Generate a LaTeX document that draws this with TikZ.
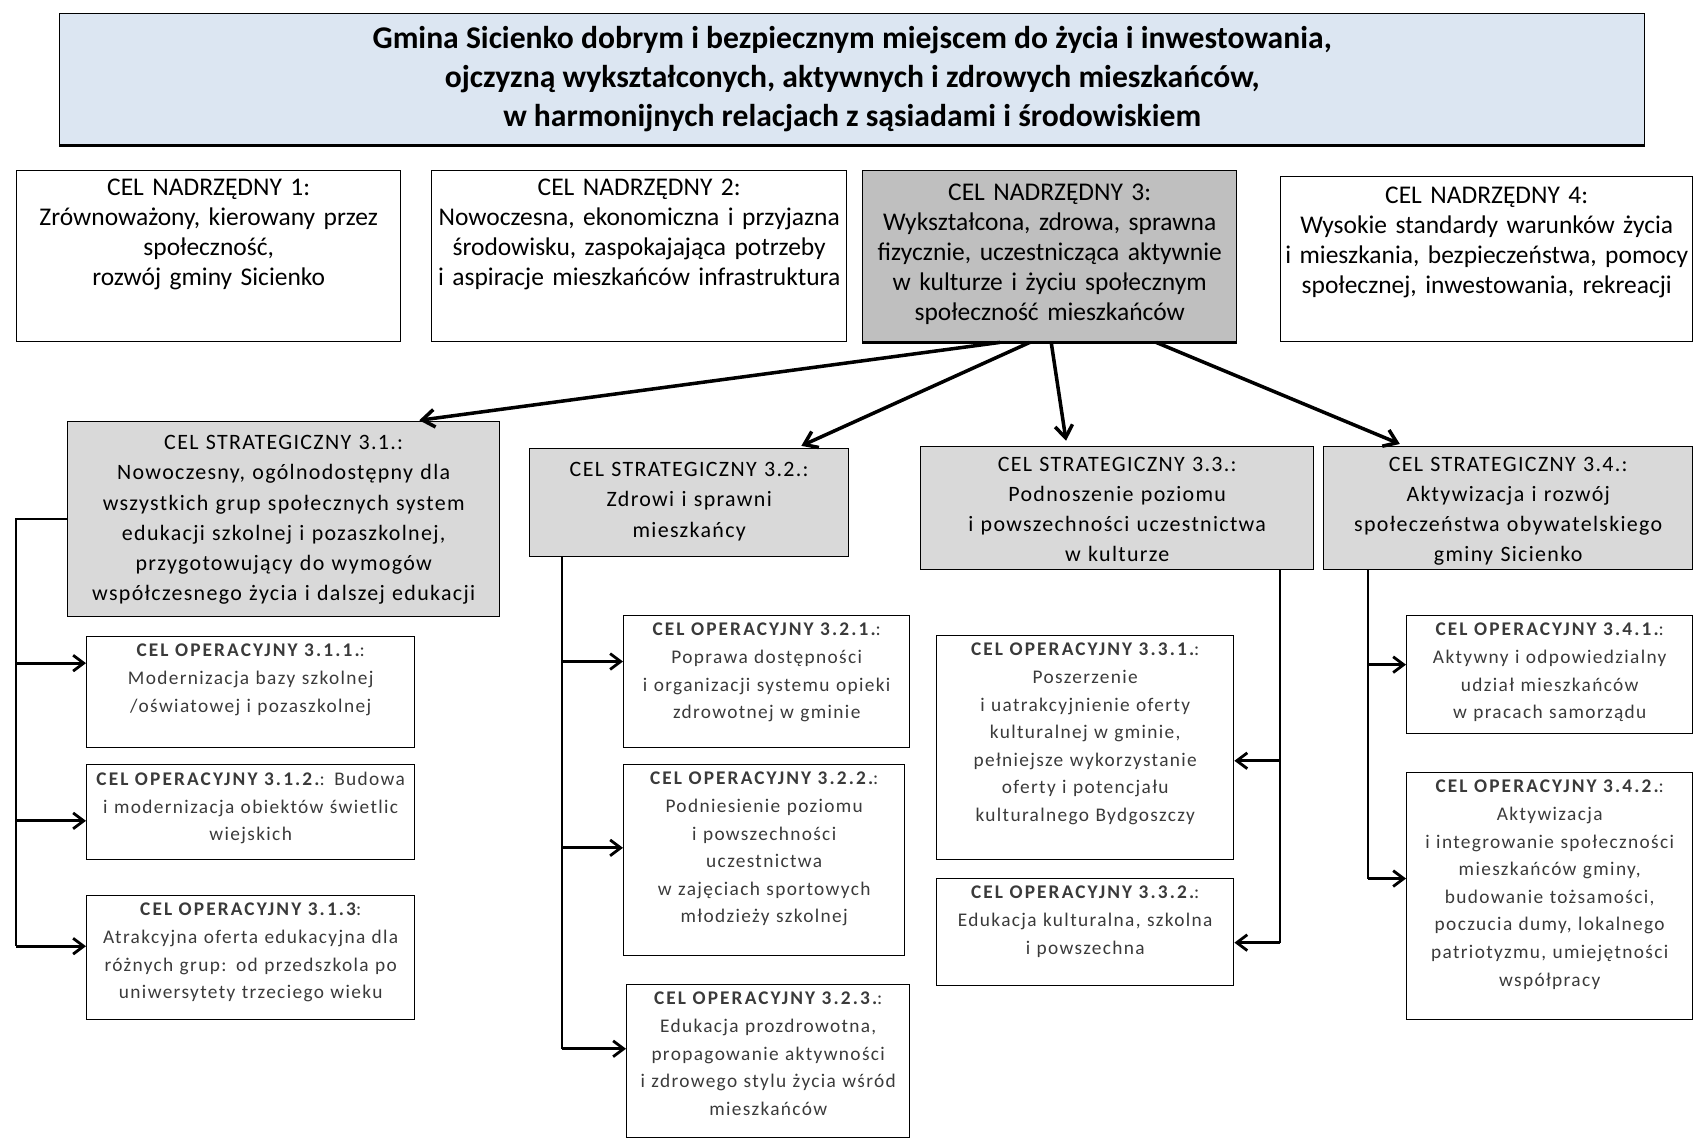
\documentclass[tikz,border=0pt]{standalone}
\usepackage{fontspec}
\setmainfont{Carlito}
\newfontfamily\stratfont[LetterSpace=6]{Carlito}
\newfontfamily\opfont[LetterSpace=7]{Carlito}
\newfontfamily\opheadfont[LetterSpace=11]{Carlito}
\usetikzlibrary{arrows.meta}

\definecolor{visionblue}{HTML}{DCE6F2}
\definecolor{nadgray}{HTML}{BFBFBF}
\definecolor{strgray}{HTML}{D9D9D9}
\definecolor{opgray}{HTML}{3A3A3A}

\newcommand{\ophead}[1]{{\opheadfont\bfseries #1}}

\begin{document}
\begin{tikzpicture}[x=0.02cm, y=-0.02cm,
  goal/.style={draw, anchor=north west, inner sep=0pt, line width=0.8pt},
  boxsize/.style 2 args={minimum width=#1*0.02cm, minimum height=#2*0.02cm},
  nadtext/.style={anchor=north, inner sep=0pt, text width=9cm, align=center,
    font=\fontsize{14.5}{17}\selectfont},
  strtext/.style={anchor=north, inner sep=0pt, text width=9.5cm, align=center,
    font=\stratfont\fontsize{12.5}{17.2}\selectfont},
  optext/.style={anchor=north, inner sep=0pt, text width=7cm, align=center, text=opgray,
    font=\opfont\fontsize{11}{15.7}\selectfont, yshift=-4.5pt},
  link/.style={line width=1.1pt},
  pointer/.style={line width=1.6pt, -{Straight Barb[length=6pt,width=9pt]}},
  mainarrow/.style={line width=2pt, -{Straight Barb[length=7pt,width=10pt]}, shorten >=3pt}]

\useasboundingbox (0,0) rectangle (1694,1139);

% wizja
\node[goal, boxsize={1585}{131}, fill=visionblue, align=center,
  font=\bfseries\fontsize{18}{22}\selectfont] (vision) at (59,13)
  {Gmina Sicienko dobrym i bezpiecznym miejscem do życia i inwestowania,\\
   ojczyzną wykształconych, aktywnych i zdrowych mieszkańców,\\
   w harmonijnych relacjach z sąsiadami i środowiskiem};
\draw[line width=2pt] (vision.south west) -- (vision.south east);

% cele nadrzedne
\node[goal, boxsize={384}{171}, label={[nadtext, yshift=-5pt]north:{CEL NADRZĘDNY 1:\\
  Zrównoważony, kierowany przez\\społeczność,\\rozwój gminy Sicienko}}] (n1) at (16,170) {};
\node[goal, boxsize={415}{171}, label={[nadtext, yshift=-5pt]north:{CEL NADRZĘDNY 2:\\
  Nowoczesna, ekonomiczna i przyjazna\\środowisku, zaspokajająca potrzeby\\
  i aspiracje mieszkańców infrastruktura}}] (n2) at (431,170) {};
\node[goal, boxsize={374}{171}, fill=nadgray, label={[nadtext, yshift=-8pt]north:{CEL NADRZĘDNY 3:\\
  Wykształcona, zdrowa, sprawna\\fizycznie, uczestnicząca aktywnie\\
  w kulturze i życiu społecznym\\społeczność mieszkańców}}] (n3) at (862,170) {};
\draw[line width=2pt] (n3.south west) -- (n3.south east);
\node[goal, boxsize={412}{165}, label={[nadtext, yshift=-6pt]north:{CEL NADRZĘDNY 4:\\
  Wysokie standardy warunków życia\\i mieszkania, bezpieczeństwa, pomocy\\
  społecznej, inwestowania, rekreacji}}] (n4) at (1280,176) {};

% cele strategiczne
\node[goal, boxsize={432}{195}, fill=strgray, label={[strtext, yshift=-8pt]north:{CEL STRATEGICZNY 3.1.:\\
  Nowoczesny, ogólnodostępny dla\\wszystkich grup społecznych system\\
  edukacji szkolnej i pozaszkolnej,\\przygotowujący do wymogów\\
  współczesnego życia i dalszej edukacji}}] (s31) at (67,421) {};
\node[goal, boxsize={319}{108}, fill=strgray, label={[strtext, yshift=-8pt]north:{CEL STRATEGICZNY 3.2.:\\
  Zdrowi i sprawni\\mieszkańcy}}] (s32) at (529,448) {};
\node[goal, boxsize={393}{123}, fill=strgray, label={[strtext, yshift=-6pt]north:{CEL STRATEGICZNY 3.3.:\\
  Podnoszenie poziomu\\i powszechności uczestnictwa\\w kulturze}}] (s33) at (920,446) {};
\node[goal, boxsize={369}{123}, fill=strgray, label={[strtext, yshift=-6pt]north:{CEL STRATEGICZNY 3.4.:\\
  Aktywizacja i rozwój\\społeczeństwa obywatelskiego\\gminy Sicienko}}] (s34) at (1323,446) {};

% cele operacyjne 3.1
\node[goal, boxsize={328}{111}, label={[optext]north:{\ophead{CEL OPERACYJNY 3.1.1.}:\\
  Modernizacja bazy szkolnej\\/oświatowej i pozaszkolnej}}] (o311) at (86,636) {};
\node[goal, boxsize={328}{95}, label={[optext]north:{\ophead{CEL OPERACYJNY 3.1.2.}: Budowa\\
  i modernizacja obiektów świetlic\\wiejskich}}] (o312) at (86,764) {};
\node[goal, boxsize={328}{124}, label={[optext]north:{\ophead{CEL OPERACYJNY 3.1.3}:\\
  Atrakcyjna oferta edukacyjna dla\\różnych grup: od przedszkola po\\
  uniwersytety trzeciego wieku}}] (o313) at (86,895) {};

% cele operacyjne 3.2
\node[goal, boxsize={286}{132}, label={[optext]north:{\ophead{CEL OPERACYJNY 3.2.1.}:\\
  Poprawa dostępności\\i organizacji systemu opieki\\zdrowotnej w gminie}}] (o321) at (623,615) {};
\node[goal, boxsize={281}{191}, label={[optext]north:{\ophead{CEL OPERACYJNY 3.2.2.}:\\
  Podniesienie poziomu\\i powszechności\\uczestnictwa\\w zajęciach sportowych\\
  młodzieży szkolnej}}] (o322) at (623,764) {};
\node[goal, boxsize={283}{153}, label={[optext]north:{\ophead{CEL OPERACYJNY 3.2.3.}:\\
  Edukacja prozdrowotna,\\propagowanie aktywności\\i zdrowego stylu życia wśród\\
  mieszkańców}}] (o323) at (626,984) {};

% cele operacyjne 3.3
\node[goal, boxsize={297}{224}, label={[optext]north:{\ophead{CEL OPERACYJNY 3.3.1.}:\\
  Poszerzenie\\i uatrakcyjnienie oferty\\kulturalnej w gminie,\\
  pełniejsze wykorzystanie\\oferty i potencjału\\kulturalnego Bydgoszczy}}] (o331) at (936,635) {};
\node[goal, boxsize={297}{107}, label={[optext]north:{\ophead{CEL OPERACYJNY 3.3.2.}:\\
  Edukacja kulturalna, szkolna\\i powszechna}}] (o332) at (936,878) {};

% cele operacyjne 3.4
\node[goal, boxsize={286}{118}, label={[optext]north:{\ophead{CEL OPERACYJNY 3.4.1.}:\\
  Aktywny i odpowiedzialny\\udział mieszkańców\\w pracach samorządu}}] (o341) at (1406,615) {};
\node[goal, boxsize={286}{247}, label={[optext]north:{\ophead{CEL OPERACYJNY 3.4.2.}:\\
  Aktywizacja\\i integrowanie społeczności\\mieszkańców gminy,\\
  budowanie tożsamości,\\poczucia dumy, lokalnego\\patriotyzmu, umiejętności\\
  współpracy}}] (o342) at (1406,772) {};

% strzalki z celu nadrzednego 3
\path (n3.240) edge[mainarrow] (s31.37);
\path (n3.257) edge[mainarrow] (s32.27);
\path (n3.271) edge[mainarrow] (s33.129);
\path (n3.321) edge[mainarrow] (s34.149);

% szyny
\coordinate (bus31) at (16,0);
\coordinate (bus32) at (562,0);
\coordinate (bus33) at (1280,0);
\coordinate (bus34) at (1368,0);

\draw[link] (s31.west) -| (bus31 |- o313.176);
\draw[pointer] (bus31 |- o311.170) -- (o311.170);
\draw[pointer] (bus31 |- o312.183) -- (o312.183);
\draw[pointer] (bus31 |- o313.176) -- (o313.176);

\draw[link] (s32.south -| bus32) -- (bus32 |- o323.175);
\draw[pointer] (bus32 |- o321.172) -- (o321.172);
\draw[pointer] (bus32 |- o322.175) -- (o322.175);
\draw[pointer] (bus32 |- o323.175) -- (o323.175);

\draw[link] (s33.south -| bus33) -- (bus33 |- o332.356);
\draw[pointer] (bus33 |- o331.355) -- (o331.355);
\draw[pointer] (bus33 |- o332.356) -- (o332.356);

\draw[link] (s34.south -| bus34) -- (bus34 |- o342.173);
\draw[pointer] (bus34 |- o341.176) -- (o341.176);
\draw[pointer] (bus34 |- o342.173) -- (o342.173);
\end{tikzpicture}
\end{document}
